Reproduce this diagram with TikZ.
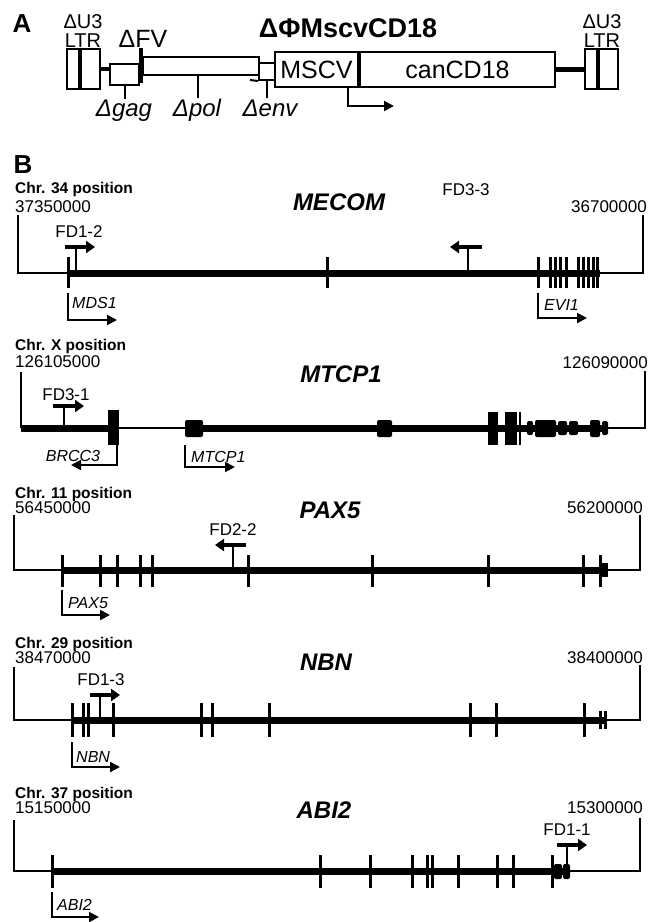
\documentclass[tikz,border=0pt]{standalone}
\usepackage{fontspec}
\setmainfont{Liberation Sans}
\usetikzlibrary{arrows.meta,positioning}

\begin{document}
\begin{tikzpicture}[x=1pt, y=-1pt,
  box/.style={rectangle, draw, line width=2pt, inner sep=0pt, font=\fontsize{25}{25}\selectfont},
  ltrbox/.style={rectangle, draw, line width=2pt, minimum width=33pt, minimum height=40pt, inner sep=0pt},
  txt/.style={inner sep=0pt, anchor=base},
  thinline/.style={line width=2pt},
  thickline/.style={line width=7pt},
  exon/.style={line width=3pt},
  block/.style={fill=black, rounded corners=2pt},
  stem/.style={line width=2pt},
  site/.style={line width=4pt, -{Triangle[length=9pt,width=12pt]}},
  gene/.style={line width=2pt, -{Triangle[length=10pt,width=10pt]}},
  chr/.style={inner sep=0pt, anchor=base west, font=\bfseries\fontsize{15.5}{16}\selectfont},
  coord/.style={inner sep=0pt, font=\fontsize{17}{17}\selectfont},
  genetitle/.style={inner sep=0pt, anchor=base, font=\bfseries\itshape\fontsize{24}{24}\selectfont},
  genename/.style={inner sep=0pt, anchor=base west, font=\itshape\fontsize{16}{16}\selectfont},
  sitename/.style={inner sep=0pt, anchor=base, font=\fontsize{17}{17}\selectfont}
]
\useasboundingbox (0,0) rectangle (658,922);

% Panel A: vector
\node[txt, font=\bfseries\fontsize{26}{26}\selectfont] (panelA) at (22,32) {A};
\node[txt, font=\bfseries\fontsize{27}{27}\selectfont] (vector) at (348,37) {ΔΦMscvCD18};

\node[ltrbox] (ltrL) at (83,69) {};
\node[ltrbox] (ltrR) at (601.5,69) {};
\draw[line width=4pt] ([xshift=-3pt]ltrL.north) -- ([xshift=-3pt]ltrL.south);
\draw[line width=4pt] ([xshift=-3.5pt]ltrR.north) -- ([xshift=-3.5pt]ltrR.south);
\node[txt, font=\fontsize{20}{20}\selectfont] (u3L) at (83,28) {ΔU3};
\node[txt, font=\fontsize{20}{20}\selectfont] (ltrtxtL) at (83,47) {LTR};
\node[txt, font=\fontsize{20}{20}\selectfont] (u3R) at (602,28) {ΔU3};
\node[txt, font=\fontsize{20}{20}\selectfont] (ltrtxtR) at (602,47) {LTR};

\node[box, minimum width=29pt, minimum height=21pt] (gag) at (124.5,74.5) {};
\node[box, minimum width=116pt, minimum height=18pt] (pol) at (201,66) {};
\node[box, minimum width=16pt, minimum height=17pt] (env) at (267,71.5) {};
\node[box, minimum width=83pt, minimum height=35pt] (mscv) at (316.5,69.5) {MSCV};
\node[box, minimum width=195pt, minimum height=35pt, right=0pt of mscv] (cd18) {canCD18};

\draw[line width=4pt] (ltrL.east) -- (ltrL.east -| gag.west);
\draw[line width=4pt] (141,48) -- (141,83);
\node[txt, font=\fontsize{25}{25}\selectfont] (fv) at (143,47) {ΔFV};
\draw[thinline] (250,80) -- (env.south west);
\draw[line width=5pt] (cd18.east) -- (cd18.east -| ltrR.west);

% deletions
\draw[thinline] (gag.south) -- ++(0,13);
\draw[thinline] ([xshift=-3pt]pol.south) -- ++(0,22);
\draw[thinline] (env.south) -- ++(0,17);
\node[txt, font=\itshape\fontsize{24}{24}\selectfont] (dgag) at (124,116) {Δgag};
\node[txt, font=\itshape\fontsize{24}{24}\selectfont] (dpol) at (197,116) {Δpol};
\node[txt, font=\itshape\fontsize{24}{24}\selectfont] (denv) at (270,116) {Δenv};

% promoter
\draw[gene] ([xshift=-11pt]mscv.south east) |- ++(46,18);

% Panel B
\node[txt, font=\bfseries\fontsize{26}{26}\selectfont] (panelB) at (23,173) {B};

% MECOM
\node[chr] (chr34) at (15,193) {Chr. 34 position};
\node[coord, anchor=base west] (mecomL) at (15,212) {37350000};
\node[coord, anchor=base east] (mecomR) at (647,212) {36700000};
\node[genetitle] (mecom) at (339,210) {MECOM};
\draw[thinline] (18,215) |- (68,273);
\draw[thickline] (68,273) -- (600,273);
\draw[thinline] (600,273) -| (643,215);
\foreach \x in {68,327,538,550,555,560,566,578,583,588,593,597}
  \draw[exon] (\x,257) -- (\x,288);
\draw[stem] (76,273) -- (76,247);
\draw[site] (65,247) -- (95,247);
\node[sitename] (fd12) at (79,237) {FD1-2};
\draw[stem] (468,273) -- (468,247);
\draw[site] (482,247) -- (450,247);
\node[sitename] (fd33) at (466,195) {FD3-3};
\draw[gene] (68,293) |- (117,320);
\node[genename] (mds1) at (72,308) {MDS1};
\draw[gene] (538,293) |- (587,318);
\node[genename] (evi1) at (544,310) {EVI1};

% MTCP1
\node[chr] (chrX) at (15,350) {Chr. X position};
\node[coord, anchor=base west] (mtcpL) at (15,367) {126105000};
\node[coord, anchor=base east] (mtcpR) at (648,368) {126090000};
\node[genetitle] (mtcp1) at (341,382) {MTCP1};
\draw[thinline] (21,372) -- (21,428);
\draw[thickline] (21,428) -- (113,428);
\draw[thinline] (113,428) -- (185,428);
\draw[thickline] (185,428) -- (608,428);
\draw[thinline] (608,428) -| (645,371);
\fill (108,410) rectangle (119,445);
\fill[block] (185,420) rectangle (203,437);
\fill[block] (377,420) rectangle (392,437);
\fill (488,412) rectangle (498,445);
\fill (505,412) rectangle (517,445);
\draw[line width=1.5pt] (520,412) -- (520,445);
\fill[block] (527,421) rectangle (533,435);
\fill[block] (535,420) rectangle (556,437);
\fill[block] (558,421) rectangle (567,435);
\fill[block] (569,421) rectangle (578,435);
\fill[block] (590,420) rectangle (600,437);
\fill[block] (602,421) rectangle (608,435);
\draw[stem] (64,428) -- (64,406);
\draw[site] (53,406) -- (84,406);
\node[sitename] (fd31) at (66,400) {FD3-1};
\draw[gene] (117,445) |- (71,465);
\node[genename, anchor=base] (brcc3) at (73,461) {BRCC3};
\draw[gene] (185,445) |- (235,467);
\node[genename] (mtcpgene) at (191,462) {MTCP1};

% PAX5
\node[chr] (chr11) at (15,498) {Chr. 11 position};
\node[coord, anchor=base west] (paxL) at (15,513) {56450000};
\node[coord, anchor=base east] (paxR) at (643,513) {56200000};
\node[genetitle] (pax5) at (330,518) {PAX5};
\draw[thinline] (14,515) |- (62,570);
\draw[thickline] (62,570) -- (607,570);
\draw[thinline] (607,570) -| (640,515);
\foreach \x in {62,100,117,140,152,248,372,488,583,600}
  \draw[exon] (\x,555) -- (\x,587);
\fill (600,563) rectangle (608,577);
\draw[stem] (233,570) -- (233,545);
\draw[site] (246,545) -- (215,545);
\node[sitename] (fd22) at (233,535) {FD2-2};
\draw[gene] (62,590) |- (110,615);
\node[genename] (paxgene) at (68,608) {PAX5};

% NBN
\node[chr] (chr29) at (15,648) {Chr. 29 position};
\node[coord, anchor=base west] (nbnL) at (15,663) {38470000};
\node[coord, anchor=base east] (nbnR) at (643,663) {38400000};
\node[genetitle] (nbn) at (326,670) {NBN};
\draw[thinline] (14,667) |- (72,720);
\draw[thickline] (72,720) -- (607,720);
\draw[thinline] (607,720) -| (640,665);
\foreach \x in {72,83,88,113,201,212,269,470,496,584}
  \draw[exon] (\x,703) -- (\x,737);
\foreach \x in {600,605}
  \draw[exon] (\x,711) -- (\x,729);
\draw[stem] (100,720) -- (100,695);
\draw[site] (90,695) -- (120,695);
\node[sitename] (fd13) at (101,685) {FD1-3};
\draw[gene] (72,742) |- (120,767);
\node[genename] (nbngene) at (76,762) {NBN};

% ABI2
\node[chr] (chr37) at (15,798) {Chr. 37 position};
\node[coord, anchor=base west] (abiL) at (15,813) {15150000};
\node[coord, anchor=base east] (abiR) at (643,813) {15300000};
\node[genetitle] (abi2) at (324,818) {ABI2};
\draw[thinline] (14,820) |- (52,871);
\draw[thickline] (52,871) -- (570,871);
\draw[thinline] (570,871) -| (640,818);
\foreach \x in {52,320,370,412,427,432,458,497,513,552}
  \draw[exon] (\x,855) -- (\x,888);
\fill[block] (554,864) rectangle (562,879);
\fill[block] (563,864) rectangle (570,879);
\draw[stem] (567,871) -- (567,845);
\draw[site] (557,845) -- (587,845);
\node[sitename] (fd11) at (567,835) {FD1-1};
\draw[gene] (52,892) |- (99,917);
\node[genename] (abigene) at (57,910) {ABI2};
\end{tikzpicture}
\end{document}
